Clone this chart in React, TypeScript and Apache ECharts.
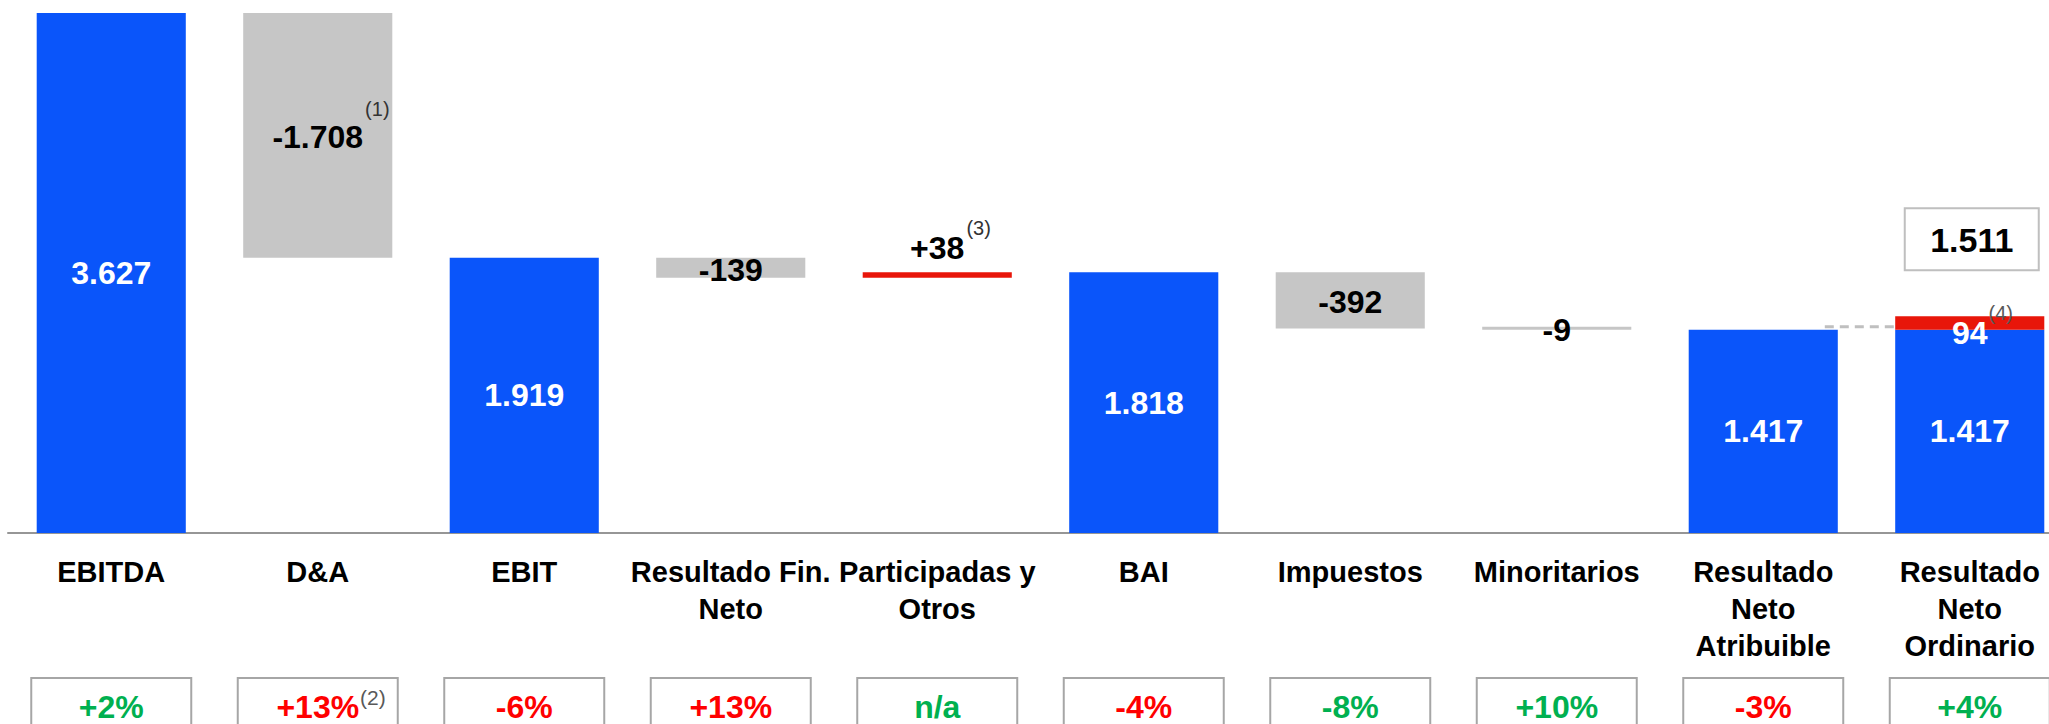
import React, { useEffect, useRef } from 'react';
import * as echarts from 'echarts';

const categories = [
  'EBITDA',
  'D&A',
  'EBIT',
  'Resultado Fin.\nNeto',
  'Participadas y\nOtros',
  'BAI',
  'Impuestos',
  'Minoritarios',
  'Resultado\nNeto\nAtribuible',
  'Resultado\nNeto\nOrdinario',
];
const stepValues = [3627, -1708, 1919, -139, 38, 1818, -392, -9, 1417, 1417];
const isTotal = [true, false, true, false, false, true, false, false, true, true];
const adjustments = [null, null, null, null, null, null, null, null, null, 94];
const valueNotes = ['', '(1)', '', '', '(3)', '', '', '', '', ''];
const adjustmentNotes = ['', '', '', '', '', '', '', '', '', '(4)'];
const pctChanges = ['+2%', '+13%', '-6%', '+13%', 'n/a', '-4%', '-8%', '+10%', '-3%', '+4%'];
const pctFavourable = [true, false, false, false, true, false, true, true, false, true];
const pctNotes = ['', '(2)', '', '', '', '', '', '', '', ''];

const FONT = '"Liberation Sans", Arial, Helvetica, sans-serif';
const BLUE = '#0A55FA';
const GREY = '#C6C6C6';
const RED = '#E8160A';

const fmt = (n: number) => String(Math.round(Math.abs(n))).replace(/\B(?=(\d{3})+(?!\d))/g, '.');

function measure(text: string, font: string): number {
  const c = document.createElement('canvas');
  const ctx = c.getContext('2d');
  if (!ctx) return text.length * 16;
  ctx.font = font;
  return ctx.measureText(text).width;
}

export default function App() {
  const ref = useRef<HTMLDivElement>(null);

  useEffect(() => {
    document.body.style.margin = '0';
    if (!ref.current) return;
    const chart = echarts.init(ref.current, null, { renderer: 'svg' });

    const base: any[] = [];
    const totals: any[] = [];
    const negatives: any[] = [];
    const positives: any[] = [];
    let level = 0;
    stepValues.forEach((v, i) => {
      if (isTotal[i]) {
        base.push(0); totals.push(v); negatives.push('-'); positives.push('-');
        level = v;
      } else if (v < 0) {
        base.push(level + v); totals.push('-'); negatives.push(-v); positives.push('-');
        level += v;
      } else {
        base.push(level); totals.push('-'); negatives.push('-'); positives.push(v);
        level += v;
      }
    });
    const adj = adjustments.map((a) => (a == null ? '-' : a));

    const valueLabel = {
      show: true,
      fontFamily: FONT,
      fontWeight: 'bold' as const,
      fontSize: 32,
    };

    chart.setOption({
      animation: false,
      grid: { left: 8, top: 13, width: 2065, height: 520, outerBoundsMode: 'none', containLabel: false },
      xAxis: {
        type: 'category',
        data: categories,
        axisLine: { lineStyle: { color: '#969696', width: 2 } },
        axisTick: { show: false },
        axisLabel: {
          interval: 0,
          color: '#000',
          fontFamily: FONT,
          fontWeight: 'bold',
          fontSize: 29,
          lineHeight: 37,
          margin: 20,
        },
      },
      yAxis: { type: 'value', min: 0, max: 3627, show: false },
      series: [
        {
          type: 'bar', stack: 'w', data: base, barWidth: '72.2%',
          itemStyle: { color: 'rgba(0,0,0,0)' }, silent: true,
        },
        {
          type: 'bar', stack: 'w', data: totals, barWidth: '72.2%',
          itemStyle: { color: BLUE },
          label: { ...valueLabel, position: 'inside', color: '#fff', formatter: (p: any) => fmt(p.value) },
        },
        {
          type: 'bar', stack: 'w', data: negatives, barWidth: '72.2%', barMinHeight: 3,
          itemStyle: { color: GREY },
          label: { ...valueLabel, position: 'inside', color: '#000', offset: [0, 2], formatter: (p: any) => '-' + fmt(p.value) },
        },
        {
          type: 'bar', stack: 'w', data: positives, barWidth: '72.2%',
          itemStyle: { color: RED },
          label: { ...valueLabel, position: 'top', distance: 8, color: '#000', formatter: (p: any) => '+' + fmt(p.value) },
        },
        {
          type: 'bar', stack: 'w', data: adj, barWidth: '72.2%',
          itemStyle: { color: RED },
          label: { ...valueLabel, position: 'inside', color: '#fff', offset: [0, 10], formatter: (p: any) => fmt(p.value) },
        },
      ],
    });

    const px = (i: number, v: number) => chart.convertToPixel({ gridIndex: 0 }, [i, v]) as number[];
    const band = px(1, 0)[0] - px(0, 0)[0];
    const barW = band * 0.722;
    const numFont = `bold 32px ${FONT}`;
    const graphics: any[] = [];

    // superscripts on the step values
    let lvl = 0;
    stepValues.forEach((v, i) => {
      let lo = 0, hi = 0;
      if (isTotal[i]) { lo = 0; hi = v; lvl = v; }
      else { lo = Math.min(lvl, lvl + v); hi = Math.max(lvl, lvl + v); lvl += v; }
      const note = valueNotes[i];
      if (!note) return;
      const cx = px(i, 0)[0];
      const label = (v < 0 ? '-' : '+') + fmt(v);
      const w = measure(label, numFont);
      const isPos = v > 0 && !isTotal[i];
      const cy = isPos ? px(i, hi)[1] - 25 : px(i, (lo + hi) / 2)[1];
      graphics.push({
        type: 'text', x: cx + w / 2 + 2, y: cy - (isPos ? 19 : 26), z: 100,
        style: { text: note, fill: '#333', font: `20px ${FONT}`, textAlign: 'left', textVerticalAlign: 'middle', verticalAlign: 'middle' },
      });
    });

    // adjustment note, total box and dashed connector
    adjustments.forEach((a, i) => {
      if (a == null) return;
      const baseVal = stepValues[i];
      const cx = px(i, 0)[0];
      const numCy = px(i, baseVal + a / 2)[1] + 10;
      const w = measure(fmt(a), numFont);
      if (adjustmentNotes[i]) {
        graphics.push({
          type: 'text', x: cx + w / 2 + 1, y: numCy - 20, z: 100,
          style: { text: adjustmentNotes[i], fill: '#595959', font: `20px ${FONT}`, textAlign: 'left', textVerticalAlign: 'middle', verticalAlign: 'middle' },
        });
      }
      const topY = px(i, baseVal + a)[1];
      const boxW = 134, boxH = 62;
      const boxCy = topY - 77;
      graphics.push({
        type: 'rect', z: 90,
        shape: { x: cx + 2 - boxW / 2, y: boxCy - boxH / 2, width: boxW, height: boxH },
        style: { fill: '#fff', stroke: '#BFBFBF', lineWidth: 2 },
      });
      graphics.push({
        type: 'text', x: cx + 2, y: boxCy + 1, z: 100,
        style: { text: fmt(baseVal + a), fill: '#000', font: `bold 34px ${FONT}`, textAlign: 'center', textVerticalAlign: 'middle', verticalAlign: 'middle' },
      });
      const prevCx = px(i - 1, 0)[0];
      const lineY = px(i, stepValues[i - 1])[1] - 3;
      graphics.push({
        type: 'line', z: 80,
        shape: { x1: prevCx + barW / 2 - 13, y1: lineY, x2: cx - barW / 2, y2: lineY },
        style: { stroke: '#BFBFBF', lineWidth: 3, lineDash: [9, 6] },
      });
    });

    // percent change boxes
    pctChanges.forEach((t, i) => {
      const cx = px(i, 0)[0];
      const boxW = 160;
      graphics.push({
        type: 'rect', z: 90,
        shape: { x: cx - boxW / 2, y: 678, width: boxW, height: 64 },
        style: { fill: '#fff', stroke: '#A6A6A6', lineWidth: 2 },
      });
      graphics.push({
        type: 'text', x: cx, y: 707, z: 100,
        style: { text: t, fill: pctFavourable[i] ? '#00B050' : '#FF0000', font: numFont, textAlign: 'center', textVerticalAlign: 'middle', verticalAlign: 'middle' },
      });
      if (pctNotes[i]) {
        const w = measure(t, numFont);
        graphics.push({
          type: 'text', x: cx + w / 2 + 1, y: 697, z: 100,
          style: { text: pctNotes[i], fill: '#595959', font: `21px ${FONT}`, textAlign: 'left', textVerticalAlign: 'middle', verticalAlign: 'middle' },
        });
      }
    });

    chart.setOption({ graphic: graphics });

    return () => chart.dispose();
  }, []);

  return <div ref={ref} style={{ width: 2049, height: 724 }} />;
}
